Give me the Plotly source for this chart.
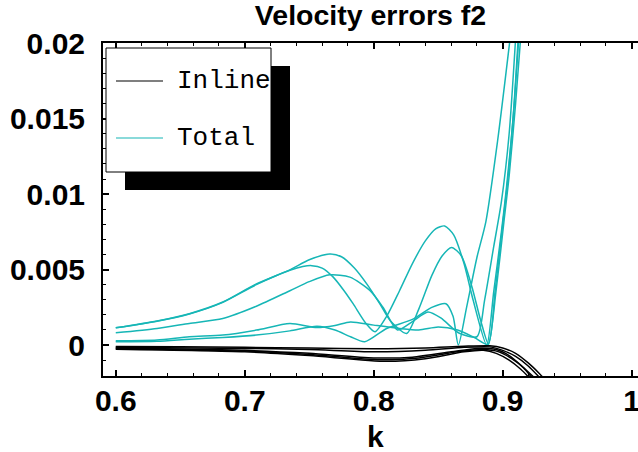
import plotly.graph_objects as go

# ---------------- data (k, error in units of 1e-3) ----------------
# Total (cyan) curves
kA = [0.600, 0.632, 0.657, 0.683, 0.709, 0.735, 0.750, 0.766, 0.775, 0.785, 0.795, 0.805, 0.813, 0.8255,
      0.835, 0.845, 0.853, 0.8604, 0.868, 0.876, 0.883, 0.889, 0.895, 0.901, 0.905, 0.910, 0.9145]
vA = [1.14, 1.60, 2.08, 2.85, 4.05, 4.98, 5.65, 6.03, 5.85, 5.10, 4.00, 2.70, 1.60, 0.77,
      2.40, 4.60, 5.90, 6.47, 5.90, 3.90, 1.60, 0.05, 3.70, 8.20, 11.2, 16.0, 21.0]

kB = [0.600, 0.632, 0.657, 0.683, 0.709, 0.735, 0.745, 0.752, 0.760, 0.7686, 0.777, 0.784, 0.794, 0.801,
      0.810, 0.820, 0.830, 0.840, 0.848, 0.855, 0.862, 0.870, 0.877, 0.8876, 0.893, 0.899, 0.903, 0.908, 0.9125]
vB = [1.14, 1.58, 2.06, 2.83, 4.00, 4.95, 5.20, 5.26, 5.10, 4.50, 3.60, 2.74, 1.43, 0.88,
      1.90, 3.60, 5.40, 6.90, 7.70, 7.89, 7.30, 5.40, 3.00, 0.00, 3.50, 7.50, 10.5, 15.0, 21.0]

kC = [0.600, 0.632, 0.657, 0.683, 0.709, 0.735, 0.750, 0.766, 0.7815, 0.797, 0.807, 0.8185,
      0.830, 0.842, 0.852, 0.866, 0.880, 0.886, 0.893, 0.899, 0.905, 0.910]
vC = [0.81, 1.10, 1.43, 1.76, 2.57, 3.60, 4.20, 4.65, 4.50, 3.62, 2.52, 1.00,
      1.55, 2.19, 1.80, 0.80, 0.55, 3.00, 6.50, 9.50, 14.0, 20.3]

kD = [0.600, 0.632, 0.657, 0.683, 0.709, 0.735, 0.756, 0.770, 0.782, 0.800, 0.820, 0.835,
      0.850, 0.865, 0.878, 0.8885, 0.894, 0.900, 0.904, 0.909, 0.913]
vD = [0.28, 0.33, 0.55, 0.66, 0.99, 1.43, 1.16, 1.30, 1.53, 1.32, 1.10, 1.00,
      1.20, 1.00, 0.50, 0.05, 3.50, 8.00, 11.0, 16.0, 21.0]

kE = [0.600, 0.632, 0.657, 0.683, 0.709, 0.735, 0.756, 0.770, 0.782, 0.793, 0.810, 0.830,
      0.845, 0.856, 0.8615, 0.8656, 0.872, 0.880, 0.887, 0.896, 0.906]
vE = [0.22, 0.25, 0.39, 0.50, 0.66, 0.94, 1.25, 1.00, 0.55, 0.22, 1.10, 1.70,
      2.50, 2.74, 1.90, 0.00, 2.50, 5.80, 8.20, 13.5, 20.5]

# Inline (black) curves
kK1 = [0.60, 0.65, 0.70, 0.75, 0.80, 0.84, 0.87, 0.89, 0.90, 0.91, 0.92, 0.928, 0.935]
vK1 = [-0.10, -0.12, -0.15, -0.20, -0.25, -0.20, -0.08, -0.05, -0.20, -0.55, -1.20, -1.85, -2.50]
kK2 = [0.60, 0.70, 0.75, 0.80, 0.84, 0.87, 0.89, 0.90, 0.91, 0.92, 0.928]
vK2 = [-0.15, -0.22, -0.30, -0.45, -0.35, -0.15, -0.12, -0.35, -0.75, -1.40, -2.10]
kK3 = [0.60, 0.70, 0.75, 0.80, 0.83, 0.86, 0.88, 0.895, 0.905, 0.915, 0.925]
vK3 = [-0.20, -0.35, -0.55, -0.85, -0.80, -0.45, -0.22, -0.30, -0.70, -1.40, -2.20]
kK4 = [0.60, 0.70, 0.75, 0.805, 0.835, 0.865, 0.885, 0.897, 0.907, 0.916, 0.923]
vK4 = [-0.24, -0.40, -0.62, -0.98, -0.85, -0.45, -0.30, -0.45, -0.90, -1.50, -2.20]
kK5 = [0.60, 0.70, 0.75, 0.81, 0.84, 0.87, 0.885, 0.895, 0.905, 0.914, 0.921]
vK5 = [-0.28, -0.45, -0.70, -1.08, -0.90, -0.45, -0.35, -0.55, -1.00, -1.60, -2.20]

x_ticks = [0.6, 0.7, 0.8, 0.9, 1.0]
x_ticktext = ["0.6", "0.7", "0.8", "0.9", "1"]
y_ticks = [0, 0.005, 0.01, 0.015, 0.02]
y_ticktext = ["0", "0.005", "0.01", "0.015", "0.02"]
legend_names = ["Inline", "Total"]

CYAN = "rgb(22,182,182)"
SCALE = 1e-3

fig = go.Figure()
for k, v in [(kA, vA), (kB, vB), (kC, vC), (kD, vD), (kE, vE)]:
    fig.add_trace(go.Scatter(x=k, y=[t * SCALE for t in v], mode="lines",
                             line=dict(color=CYAN, width=1.5, shape="spline", smoothing=0.7),
                             showlegend=False, hoverinfo="skip"))
for k, v in [(kK1, vK1), (kK2, vK2), (kK3, vK3), (kK4, vK4), (kK5, vK5)]:
    fig.add_trace(go.Scatter(x=k, y=[t * SCALE for t in v], mode="lines",
                             line=dict(color="black", width=1.5, shape="spline", smoothing=0.7),
                             showlegend=False, hoverinfo="skip"))

W, H = 638, 452
L, R, T, B = 103, 0, 43, 76
PW, PH = W - L - R, H - T - B


def px(x):
    return (x - L) / PW


def py(y):
    return (H - B - y) / PH


TICKFONT = dict(family="Liberation Sans", size=30, color="black", weight="bold")
TITLEFONT = dict(family="Liberation Sans", size=28.5, color="black", weight="bold")
LEGFONT = dict(family="Liberation Mono", size=26, color="black")

shapes = [
    # legend shadow
    dict(type="rect", xref="paper", yref="paper", x0=px(125), x1=px(290), y0=py(190), y1=py(66),
         fillcolor="black", line=dict(width=0), layer="above"),
    # legend box
    dict(type="rect", xref="paper", yref="paper", x0=px(106), x1=px(271), y0=py(172), y1=py(48),
         fillcolor="white", line=dict(color="black", width=1), layer="above"),
    dict(type="line", xref="paper", yref="paper", x0=px(116), x1=px(163), y0=py(81), y1=py(81),
         line=dict(color="black", width=1.2), layer="above"),
    dict(type="line", xref="paper", yref="paper", x0=px(116), x1=px(163), y0=py(138), y1=py(138),
         line=dict(color=CYAN, width=1.2), layer="above"),
]
annotations = [
    dict(text=legend_names[0], xref="paper", yref="paper", x=px(175), y=py(81), xanchor="left",
         yanchor="middle", showarrow=False, font=LEGFONT),
    dict(text=legend_names[1], xref="paper", yref="paper", x=px(175), y=py(138), xanchor="left",
         yanchor="middle", showarrow=False, font=LEGFONT),
    dict(text="k", xref="paper", yref="paper", x=px(375), y=py(436), xanchor="center",
         yanchor="middle", showarrow=False, font=TICKFONT),
]

fig.update_layout(
    width=W, height=H,
    margin=dict(l=L, r=R, t=T, b=B, pad=0, autoexpand=False),
    paper_bgcolor="white", plot_bgcolor="white",
    title=dict(text="Velocity errors f2", x=0.5, xref="paper", xanchor="center",
               y=1 - 15 / H, yref="container", yanchor="middle", font=TITLEFONT),
    shapes=shapes, annotations=annotations, showlegend=False,
)
fig.update_xaxes(range=[0.5901, 1.0049], showgrid=False, zeroline=False, automargin=False,
                 showline=True, linecolor="black", linewidth=2, mirror="ticks",
                 ticks="inside", ticklen=6, tickwidth=1.5, tickcolor="black",
                 tickvals=x_ticks, ticktext=x_ticktext, tickfont=TICKFONT, ticklabelstandoff=-3,
                 ticklabeloverflow="allow",
                 minor=dict(dtick=0.02, tick0=0.6, ticks="inside", ticklen=3, tickwidth=1.2,
                            tickcolor="black", showgrid=False))
fig.update_yaxes(range=[-0.00205, 0.02001], showgrid=False, zeroline=False, automargin=False,
                 showline=True, linecolor="black", linewidth=2, mirror=False,
                 ticks="inside", ticklen=6, tickwidth=1.5, tickcolor="black",
                 tickvals=y_ticks, ticktext=y_ticktext, tickfont=TICKFONT, ticklabelstandoff=10,
                 ticklabeloverflow="allow",
                 minor=dict(dtick=0.001, tick0=0, ticks="inside", ticklen=3, tickwidth=1.2,
                            tickcolor="black", showgrid=False))

fig.write_html("out.html", config={"displayModeBar": False},
               post_script="document.body.style.margin='0';document.body.style.overflow='hidden';")
